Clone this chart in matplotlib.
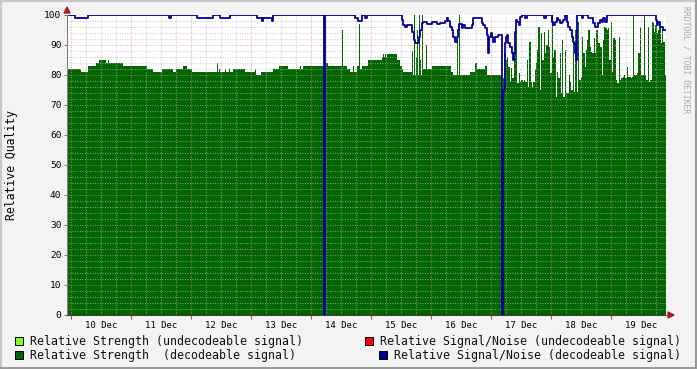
import numpy as np
import matplotlib
matplotlib.use("Agg")
import matplotlib.pyplot as plt
from matplotlib.patches import Rectangle, Polygon

# ── datos (horas desde 10 Dec 00:00) ─────────────────────────────────────────

# nivel base de la intensidad (decodificable), en escalones
base_h = [-1.6, 4.0, 6.8, 10.0, 11.2, 13.6, 20.8, 30.4, 32.8, 36.4, 40.8, 42.0,
          44.8, 46.4, 48.4, 64.8, 69.6, 74.0, 76.0, 80.8, 83.2, 86.8, 92.8,
          102.0, 102.8, 110.4, 111.6, 114.4, 115.2, 116.4, 118.8, 124.4, 126.4,
          130.4, 131.6, 132.4, 132.8, 136.8, 140.8, 144.4, 152.0, 152.8, 159.6,
          161.6, 162.4, 165.6, 166.4, 172.4]
base_v = [82, 81, 83, 84, 85, 84, 83, 82, 81, 82, 81, 82,
          83, 82, 81, 82, 81, 80, 81, 82, 83, 82, 83,
          84, 83, 82, 81, 83, 82, 83, 85, 86, 87,
          85, 83, 82, 81, 80, 82, 83, 81, 80, 81,
          84, 82, 83, 80, 70]

# picos aislados
spike_h = [13.6, 14.8, 58.4, 59.2, 61.6, 63.2, 73.6, 91.6, 108.4, 112.8, 115.2,
           124.8, 125.6, 136.5, 137.2, 137.9, 138.5, 139.1, 139.6, 140.3, 142.0,
           154.3, 155.2]
spike_v = [85, 85, 84, 82, 82, 82, 82, 83, 95, 83, 97,
           87, 87, 88, 100, 86, 95, 100, 85, 100, 90,
           92, 100]

# zona ruidosa desde el 16 Dec ~19h hasta el final
noisy_start, noisy_end = 172.8, 238.0
noisy_v = [78.9, 87.2, 85.0, 86.1, 82.8, 77.8, 82.2, 78.9, 86.1, 90.6, 94.4, 77.2,
           80.6, 77.8, 78.3, 77.8, 78.3, 77.8, 85.0, 76.1, 91.1, 77.8, 76.1, 77.8,
           81.7, 83.9, 88.3, 96.1, 75.0, 93.9, 85.0, 94.4, 87.2, 90.0, 95.0, 89.4,
           80.6, 100,
           86.1, 88.3, 72.8, 81.1, 78.9, 87.2, 73.9, 91.7, 72.8, 88.3, 73.9, 73.9,
           80.0, 77.8, 75.0, 92.8, 74.4, 95.0, 74.4, 97.8, 78.3, 79.4, 92.8, 87.2,
           82.8, 88.3, 91.7, 95.0, 89.4, 87.8, 87.2, 92.2, 87.2, 95.0, 90.6, 90.6,
           89.4, 80.0, 91.7, 96.1, 95.6, 95.0, 95.6, 85.0, 97.8, 81.1, 92.2, 91.7,
           78.3, 77.2, 92.8, 78.3, 78.9, 79.4, 80.0, 78.9, 82.8, 79.4, 79.4, 78.9,
           79.4, 100, 80.0, 80.0, 80.6, 87.2, 96.1, 80.0, 80.0, 100, 80.0, 78.3,
           96.1, 77.8, 78.3, 97.8, 97.2, 94.4, 96.7, 93.9, 95.0, 96.1, 90.6, 95.0,
           91.1, 80.0]

# intensidad no decodificable (solo un instante)
undec_h = [172.4, 172.8]
undec_v = [74, 74]

# relación señal/ruido (decodificable)
snr_h = [-1.6, 1.6, 6.8, 39.2, 40.0, 50.4, 56.8, 59.6, 63.6, 74.4, 76.4, 76.8,
         80.4, 80.8, 101.2, 101.2, 101.6, 113.6, 114.8, 116.3, 117.6, 118.5,
         132.3, 132.9, 133.6, 134.3, 136.3, 137.0, 137.4, 138.3, 139.0, 139.6,
         140.3, 140.9, 142.3, 144.3, 146.3, 147.6, 149.6, 150.4, 150.9, 151.6,
         152.3, 152.9, 153.6, 154.3, 154.9, 155.3, 156.3, 156.9, 157.6, 159.6,
         160.3, 160.9, 163.6, 164.3, 164.9, 165.6, 166.3, 166.7, 167.3, 167.9,
         168.4, 168.9, 169.6, 170.3, 170.9, 172.3, 172.5, 172.9, 173.6, 174.0,
         174.5, 174.9, 175.6, 176.3, 176.7, 177.2, 177.6, 178.0, 178.5, 179.1,
         179.6, 180.3, 181.6, 182.3, 189.2, 190.0, 192.3, 192.9, 193.6, 194.4,
         194.9, 195.6, 196.3, 196.9, 197.6, 198.3, 198.9, 199.6, 200.3, 200.9,
         201.2, 201.6, 202.0, 202.3, 202.5, 204.3, 204.9, 206.9, 208.3, 208.9,
         209.6, 210.9, 211.6, 212.3, 212.9, 213.6, 214.3, 234.0, 234.3, 234.9,
         235.6, 236.9, 238.0]
snr_v = [100, 99, 100, 99, 100, 99, 100, 99, 100, 99, 98, 99,
         98, 100, 100, 0, 100, 99, 98, 100, 99, 100,
         98.3, 96.7, 96.1, 96.7, 94.4, 91.7, 90.6, 90.6, 92.8, 95,
         97.2, 97.8, 96.9, 97.8, 96.9, 97.2, 98, 99, 98, 96.1,
         95, 92.8, 91.1, 92.8, 95, 97, 95.6, 96.7, 95.6, 95.6,
         96.7, 99, 99, 97.2, 96.7, 95.6, 93.3, 87.2, 92.8, 93.9,
         92.8, 91.1, 92.8, 92.8, 93.3, 93.3, 0, 75, 90.6, 92.8,
         93.3, 90.6, 89.4, 87.2, 85, 87.2, 94.4, 98.3, 97.8, 96.7,
         99.4, 100, 99, 100, 99, 100, 97.8, 96.7, 97.8, 98.9,
         98.3, 97.2, 97.8, 98.3, 100, 97.8, 96.1, 95, 92.8, 91.1,
         90.6, 87.2, 85, 88.3, 100, 99, 100, 99, 99, 97.2,
         96.1, 97.2, 98.3, 97.8, 99, 97.8, 100, 98.3, 96.7, 97.8,
         96.1, 95, 95]

dias = ["10 Dec", "11 Dec", "12 Dec", "13 Dec", "14 Dec",
        "15 Dec", "16 Dec", "17 Dec", "18 Dec", "19 Dec"]

# ── colores ──────────────────────────────────────────────────────────────────
VERDE = "#006600"
VERDE_CLARO = "#80ff20"
AZUL = "#000099"
ROJO = "#ff0000"
FONDO = "#f3f3f3"
MONO = "DejaVu Sans Mono"

fig = plt.figure(figsize=(6.97, 3.69), dpi=100, facecolor=FONDO)
ax = fig.add_axes([67 / 697, 54 / 369, 599 / 697, 300 / 369])
ax.set_facecolor("white")
ax.set_xlim(-1.6, 238.0)
ax.set_ylim(0, 100)

# intensidad
bh = base_h + [noisy_start]
bv = base_v + [base_v[-1]]
ax.fill_between(bh, 0, bv, step="post", color=VERDE, lw=0, zorder=2)
nh = np.linspace(noisy_start, noisy_end, len(noisy_v) + 1)
nv = noisy_v + [noisy_v[-1]]
ax.fill_between(nh, 0, nv, step="post", color=VERDE, lw=0, zorder=2)
ax.bar(spike_h, spike_v, width=0.45, align="edge", color=VERDE, lw=0, zorder=2)
ax.fill_between(undec_h, 70, undec_v, step="post", color=VERDE_CLARO, lw=0, zorder=2)

# grilla
for h in range(0, 240, 6):
    col = "#e08080" if h % 24 == 0 else "#b8b8b8"
    ax.axvline(h, color=col, lw=0.6, ls=(0, (1, 2)), zorder=3)
for v in range(2, 100, 2):
    col = "#e08080" if v % 10 == 0 else "#b8b8b8"
    ax.axhline(v, color=col, lw=0.6, ls=(0, (1, 2)), zorder=3)

# señal/ruido
ax.step(snr_h, snr_v, where="post", color=AZUL, lw=1.3, zorder=4)

# ejes
for s in ["top", "right"]:
    ax.spines[s].set_visible(False)
ax.spines["left"].set_color("#808080")
ax.spines["bottom"].set_color("#404040")
ax.spines["left"].set_zorder(5)
ax.spines["bottom"].set_zorder(5)

ax.set_yticks(range(0, 101, 10))
ax.set_yticklabels([str(v) for v in range(0, 101, 10)], fontsize=6.8, family=MONO)
ax.tick_params(axis="y", length=2, width=0.6, color="#606060", pad=2)

ax.set_xticks(range(0, 240, 24))
ax.set_xticklabels([])
ax.set_xticks(range(12, 240, 24), minor=True)
ax.set_xticklabels(dias, minor=True, fontsize=6.5, family=MONO)
ax.tick_params(axis="x", which="major", length=3, width=0.8, color="#d04040")
ax.tick_params(axis="x", which="minor", length=0, pad=4)

ax.set_ylabel("Relative Quality", fontsize=8.3, family=MONO)
ax.yaxis.set_label_coords(-49 / 599, 0.5)

# flechitas
fig.patches.append(Polygon([[64 / 697, 1 - 13 / 369], [70 / 697, 1 - 13 / 369],
                            [67 / 697, 1 - 7 / 369]], closed=True,
                           transform=fig.transFigure, color="#a02020", zorder=6))
fig.patches.append(Polygon([[668 / 697, 1 - 312 / 369], [668 / 697, 1 - 318 / 369],
                            [674 / 697, 1 - 315 / 369]], closed=True,
                           transform=fig.transFigure, color="#a02020", zorder=6))

# marca de agua
fig.text(686 / 697, 1 - 60 / 369, "RRDTOOL / TOBI OETIKER", rotation=270,
         fontsize=5.8, family=MONO, color="#a8a8a8", ha="center", va="center")

# leyenda
items = [
    (15, 341, VERDE_CLARO, 30, "Relative Strength (undecodeable signal)"),
    (365, 341, ROJO, 380, "Relative Signal/Noise (undecodeable signal)"),
    (15, 355, VERDE, 30, "Relative Strength  (decodeable signal)"),
    (379, 355, AZUL, 394, "Relative Signal/Noise (decodeable signal)"),
]
for bx, by, col, tx, txt in items:
    fig.patches.append(Rectangle((bx / 697, 1 - (by + 4) / 369), 8 / 697, 8 / 369,
                                 transform=fig.transFigure, facecolor=col,
                                 edgecolor="black", lw=0.7))
    fig.text(tx / 697, 1 - by / 369, txt, fontsize=8.4, family=MONO,
             ha="left", va="center", color="#101010")

# borde de la imagen
fig.patches.append(Rectangle((0, 0), 1, 1, transform=fig.transFigure,
                             fill=False, edgecolor="#c8c8c8", lw=3))
fig.patches.append(Rectangle((1 - 2 / 697, 0), 2 / 697, 1, transform=fig.transFigure,
                             color="#9a9a9a", lw=0))
fig.patches.append(Rectangle((0, 0), 1, 2 / 369, transform=fig.transFigure,
                             color="#9a9a9a", lw=0))

fig.savefig("out.png", dpi=100, facecolor=FONDO)
